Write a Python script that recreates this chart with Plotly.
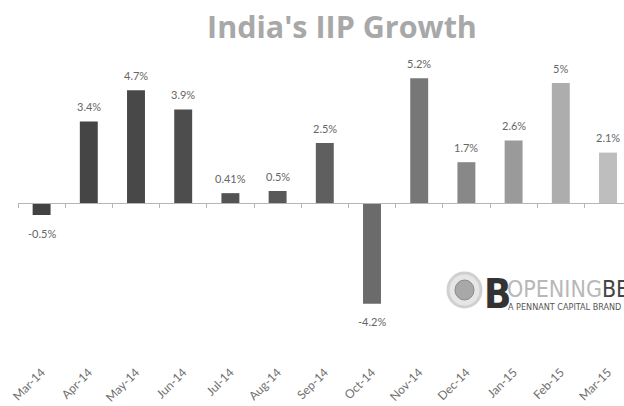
import plotly.graph_objects as go

months = ["Mar-14", "Apr-14", "May-14", "Jun-14", "Jul-14", "Aug-14", "Sep-14",
          "Oct-14", "Nov-14", "Dec-14", "Jan-15", "Feb-15", "Mar-15"]
growth = [-0.5, 3.4, 4.7, 3.9, 0.41, 0.5, 2.5, -4.2, 5.2, 1.7, 2.6, 5, 2.1]
bar_colors = ["#424242", "#454545", "#484848", "#4d4d4d", "#535353", "#595959", "#5f5f5f",
              "#6b6b6b", "#777777", "#888888", "#9a9a9a", "#adadad", "#bebebe"]

W, H = 624, 406
ml, mr, mt, mb = 18, 0, 60, 44
plot_w = W - ml - mr
plot_h = H - mt - mb
zero_px = 203
px_per_unit = 24.0
ymax = (zero_px - mt) / px_per_unit
ymin = -((H - mb) - zero_px) / px_per_unit
cat_w = 47.2
xmax = plot_w / cat_w - 0.5


def px(xp):
    return (xp - ml) / plot_w


def py(yp):
    return (H - mb - yp) / plot_h


fig = go.Figure()
fig.add_trace(go.Bar(x=months, y=growth, marker=dict(color=bar_colors, line=dict(width=0)),
                     width=0.38, hoverinfo="x+y", showlegend=False))
# invisible trace carrying the bottom label axis
fig.add_trace(go.Scatter(x=months, y=[0] * len(months), xaxis="x2", mode="markers",
                         marker=dict(opacity=0), hoverinfo="skip", showlegend=False))

annotations = []
for m, v in zip(months, growth):
    annotations.append(dict(x=m, y=v, xref="x", yref="y", text=f"{v:g}%", showarrow=False,
                            yshift=15 if v >= 0 else -18, yanchor="middle",
                            font=dict(family="Lato, sans-serif", size=11, color="#666666")))

logo_font = "DejaVu Sans Condensed, Liberation Sans Narrow, Liberation Sans, sans-serif"
annotations.append(dict(xref="paper", yref="paper", x=px(482), y=py(294),
                        xanchor="left", yanchor="middle", showarrow=False,
                        text="<b>B</b>",
                        font=dict(family=logo_font, size=40, color="#333333")))
annotations.append(dict(xref="paper", yref="paper", x=px(505), y=py(289),
                        xanchor="left", yanchor="middle", showarrow=False,
                        text="<span style='color:#b8b8b8'>OPENING</span><span style='color:#444444'>BELL</span>",
                        font=dict(family=logo_font, size=23)))
annotations.append(dict(xref="paper", yref="paper", x=px(506), y=py(307),
                        xanchor="left", yanchor="middle", showarrow=False,
                        text="A PENNANT CAPITAL BRAND",
                        font=dict(family=logo_font, size=9, color="#555555")))

shapes = [
    dict(type="circle", xref="paper", yref="paper",
         x0=px(448), x1=px(481), y0=py(307), y1=py(273),
         line=dict(color="#d0d0d0", width=3), fillcolor="#e6e6e6"),
    dict(type="circle", xref="paper", yref="paper",
         x0=px(455), x1=px(474), y0=py(300), y1=py(280),
         line=dict(color="#8a8a8a", width=1), fillcolor="#a8a8a8"),
]

fig.update_layout(
    width=W, height=H,
    margin=dict(l=ml, r=mr, t=mt, b=mb, autoexpand=False),
    paper_bgcolor="white", plot_bgcolor="white",
    title=dict(text="<b>India's IIP Growth</b>", x=342 / W, xanchor="center", y=1 - 27 / H, yanchor="middle",
               font=dict(family="Open Sans, sans-serif", size=30.5, color="#a8a8a8"), automargin=False),
    xaxis=dict(type="category", range=[-0.5, xmax], anchor="free", position=py(zero_px),
               showline=True, linecolor="#b5b5b5", linewidth=1, ticks="outside", ticklen=4,
               tickcolor="#b5b5b5", tickson="boundaries", showticklabels=False, showgrid=False,
               zeroline=False, automargin=False),
    xaxis2=dict(type="category", overlaying="x", matches="x", anchor="y", side="bottom",
                showline=False, ticks="", showgrid=False, tickangle=-45, automargin=False,
                tickfont=dict(family="Lato, sans-serif", size=12, color="#707070")),
    yaxis=dict(range=[ymin, ymax], showgrid=False, zeroline=False, showticklabels=False,
               showline=False, ticks="", automargin=False),
    bargap=0.62,
    annotations=annotations,
    shapes=shapes,
)

fig.write_html("out.html", config={"displayModeBar": False},
               post_script="document.body.style.margin='0';document.body.style.overflow='hidden';")
